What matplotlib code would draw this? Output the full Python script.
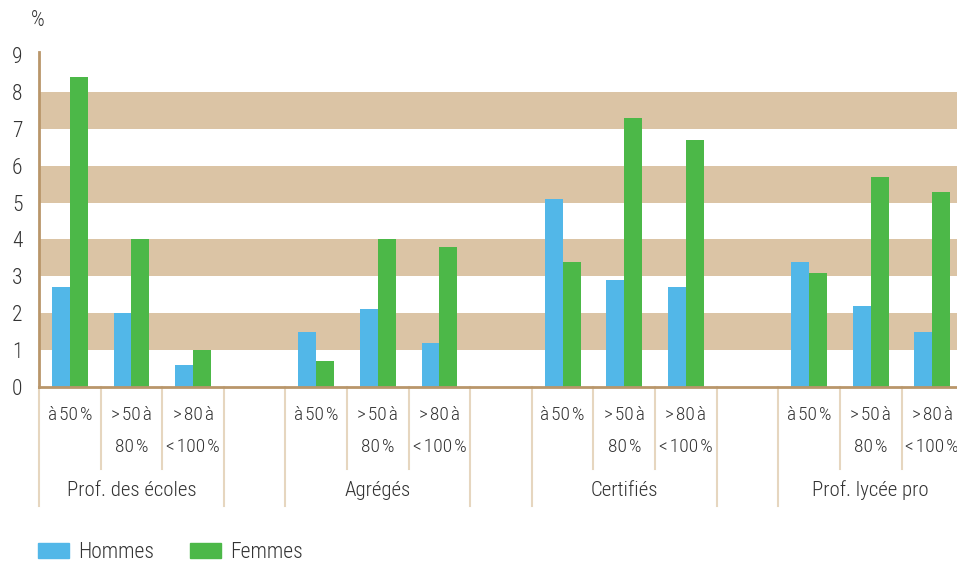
import matplotlib
matplotlib.use("Agg")
import matplotlib.pyplot as plt
from matplotlib.patches import Patch
import numpy as np

plt.rcParams['font.family'] = ['Roboto Condensed', 'DejaVu Sans']
plt.rcParams['font.stretch'] = 'condensed'
plt.rcParams['font.weight'] = 'light'

corps = ["Prof. des écoles", "Agrégés", "Certifiés", "Prof. lycée pro"]
quotites = [["à\u200a50\u200a%"], [">\u200a50\u200aà", "80\u200a%"], [">\u200a80\u200aà", "<\u200a100\u200a%"]]
hommes = [2.7, 2.0, 0.6, 1.5, 2.1, 1.2, 5.1, 2.9, 2.7, 3.4, 2.2, 1.5]
femmes = [8.4, 4.0, 1.0, 0.7, 4.0, 3.8, 3.4, 7.3, 6.7, 3.1, 5.7, 5.3]

BLEU = "#52b7e8"
VERT = "#4cb848"
BANDE = "#dbc4a5"
AXE = "#b9966a"
TRAIT = "#e6d6bf"
TEXTE = "#333333"
FS = 15.5
FS_G = 15
FS_Q = 14

# 4 groupes de 3 barres, separes par un emplacement vide
x = np.array([g * 4 + k for g in range(4) for k in range(3)])
w = 0.29

fig = plt.figure(figsize=(9.57, 5.64), dpi=100)
ax = fig.add_axes([39 / 957, 177.2 / 564, 1 - 39 / 957, 334.4 / 564])

for lo in (1, 3, 5, 7):
    ax.axhspan(lo, lo + 1, color=BANDE, lw=0, zorder=0)

ax.bar(x - w / 2, hommes, w, color=BLEU, zorder=2)
ax.bar(x + w / 2, femmes, w, color=VERT, zorder=2)

ax.set_xlim(-0.5, 14.4)
ax.set_ylim(0, 9.08)
ax.set_yticks(range(10))
ax.set_xticks([])
ax.tick_params(axis='y', length=0, labelsize=FS, labelcolor=TEXTE, pad=12)
for side in ("top", "right"):
    ax.spines[side].set_visible(False)
for side in ("left", "bottom"):
    ax.spines[side].set_color(AXE)
    ax.spines[side].set_linewidth(2)
    ax.spines[side].set_zorder(3)

trans = ax.get_xaxis_transform()

# traits verticaux sous l'axe : courts entre quotites, longs entre corps
for g in range(4):
    debut = g * 4 - 0.5
    for b in (debut, debut + 3):
        ax.plot([b, b], [0, -0.355], color=TRAIT, lw=1.5, transform=trans, clip_on=False)
    for b in (debut + 1, debut + 2):
        ax.plot([b, b], [0, -0.245], color=TRAIT, lw=1.5, transform=trans, clip_on=False)
    ax.text(g * 4 + 1, -0.31, corps[g], transform=trans, ha='center', va='center',
            fontsize=FS_G, color=TEXTE)
    for k, lignes in enumerate(quotites):
        for n, txt in enumerate(lignes):
            ax.text(g * 4 + k, -0.085 - n * 0.096, txt, transform=trans,
                    ha='center', va='center', fontsize=FS_Q, color=TEXTE)

fig.text(31 / 957, 1 - 20 / 564, "%", fontsize=FS, color=TEXTE, va='center')

fig.legend(handles=[Patch(color=BLEU, label="Hommes"), Patch(color=VERT, label="Femmes")],
           loc='lower left', bbox_to_anchor=(37 / 957, 0.0), ncol=2, frameon=False,
           fontsize=FS, labelcolor=TEXTE, handlelength=1.45, handleheight=0.72,
           handletextpad=0.42, columnspacing=1.65, borderaxespad=0, borderpad=0.05)

fig.savefig("out.png", dpi=100)
